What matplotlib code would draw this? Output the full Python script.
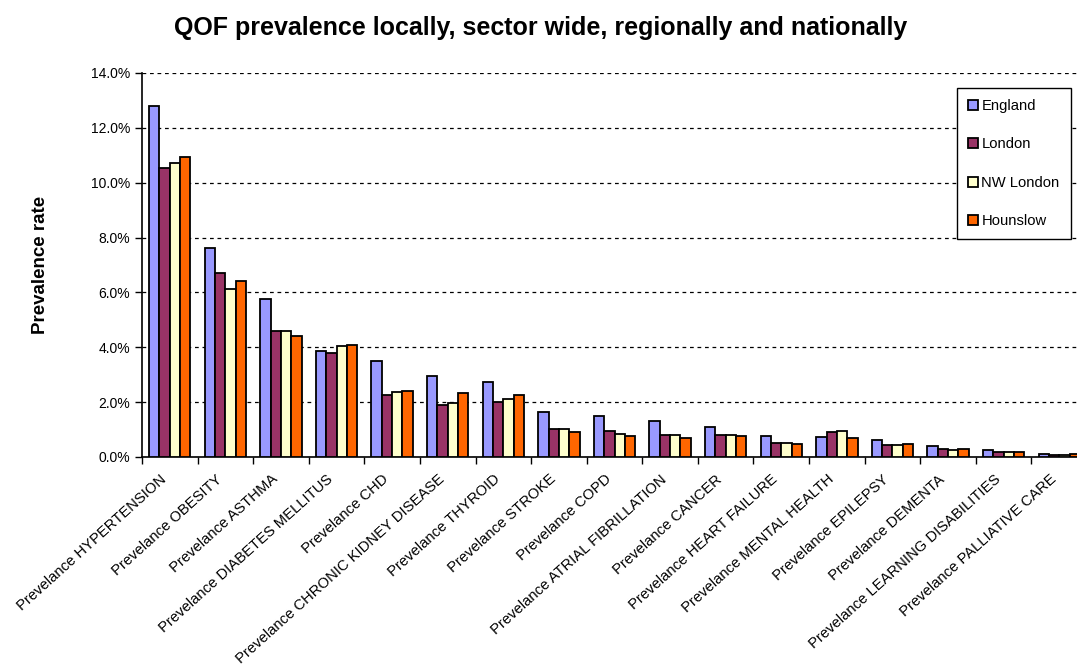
import numpy as np
import matplotlib
matplotlib.use("Agg")
import matplotlib.pyplot as plt
import matplotlib.transforms as mtransforms
from matplotlib.ticker import PercentFormatter, MultipleLocator, FixedLocator

plt.rcParams['font.family'] = ['Liberation Sans', 'DejaVu Sans']

categories = [
    "Prevelance HYPERTENSION", "Prevelance OBESITY", "Prevelance ASTHMA",
    "Prevelance DIABETES MELLITUS", "Prevelance CHD",
    "Prevelance CHRONIC KIDNEY DISEASE", "Prevelance THYROID",
    "Prevelance STROKE", "Prevelance COPD", "Prevelance ATRIAL FIBRILLATION",
    "Prevelance CANCER", "Prevelance HEART FAILURE",
    "Prevelance MENTAL HEALTH", "Prevelance EPILEPSY", "Prevelance DEMENTA",
    "Prevelance LEARNING DISABILITIES", "Prevelance PALLIATIVE CARE",
]
england = [12.79, 7.62, 5.76, 3.86, 3.51, 2.94, 2.72, 1.64, 1.48, 1.30,
           1.09, 0.76, 0.74, 0.62, 0.41, 0.27, 0.12]
london = [10.53, 6.71, 4.59, 3.78, 2.25, 1.89, 2.02, 1.02, 0.95, 0.80,
          0.81, 0.51, 0.91, 0.45, 0.29, 0.18, 0.08]
nw_london = [10.72, 6.14, 4.60, 4.06, 2.37, 1.97, 2.11, 1.02, 0.85, 0.80,
             0.82, 0.51, 0.96, 0.44, 0.27, 0.17, 0.08]
hounslow = [10.95, 6.42, 4.42, 4.09, 2.39, 2.32, 2.26, 0.92, 0.78, 0.70,
            0.78, 0.47, 0.68, 0.46, 0.29, 0.19, 0.12]

series = [("England", england, "#9999FF"),
          ("London", london, "#993366"),
          ("NW London", nw_london, "#FFFFCC"),
          ("Hounslow", hounslow, "#FF6600")]

W, H = 1077, 664
fig = plt.figure(figsize=(W / 100, H / 100), dpi=100)
# plot area runs slightly past the right edge of the canvas
ax = fig.add_axes([142 / W, 207 / H, 945 / W, 384 / H])

n = len(categories)
x = np.arange(n)
bw = 0.186
for i, (name, vals, col) in enumerate(series):
    ax.bar(x + (i - 1.5) * bw, vals, width=bw, color=col, edgecolor="black",
           linewidth=1.3, label=name, zorder=3)

ax.set_xlim(-0.5, n - 0.5)
ax.set_ylim(0, 14)
ax.yaxis.set_major_locator(MultipleLocator(2))
ax.yaxis.set_major_formatter(PercentFormatter(decimals=1))
ax.grid(axis="y", linestyle=(0, (3, 3)), color="black", linewidth=0.9, zorder=0)

ax.set_xticks(x)
ax.set_xticklabels(categories, rotation=42, ha="right", va="top",
                   rotation_mode="anchor", fontsize=10.6)
ax.tick_params(axis="x", which="major", length=0, pad=8)
shift = mtransforms.ScaledTranslation(-10 / 100, -4 / 100, fig.dpi_scale_trans)
for lbl in ax.get_xticklabels():
    lbl.set_transform(lbl.get_transform() + shift)
ax.xaxis.set_minor_locator(FixedLocator(np.arange(-0.5, n + 0.5, 1)))
ax.tick_params(axis="x", which="minor", length=5, width=1, direction="out")
ax.tick_params(axis="y", labelsize=10, length=5, width=1, direction="out")

for s in ("top", "right"):
    ax.spines[s].set_visible(False)
for s in ("left", "bottom"):
    ax.spines[s].set_linewidth(1.2)

ax.set_ylabel("Prevalence rate", fontsize=13.5, fontweight="bold", labelpad=30)
fig.text(541 / W, 1 - 28 / H,
         "QOF prevalence locally, sector wide, regionally and nationally",
         ha="center", va="center", fontsize=18, fontweight="bold")

leg = ax.legend(loc="upper left", bbox_to_anchor=(957 / W, 1 - 88 / H),
                bbox_transform=fig.transFigure, fontsize=10.6, frameon=True,
                fancybox=False, framealpha=1, edgecolor="black",
                labelspacing=1.66, handlelength=0.65, handleheight=0.65,
                handletextpad=0.25, borderpad=0.75, borderaxespad=0)
leg.get_frame().set_linewidth(1.0)

fig.savefig("out.png", dpi=100)
